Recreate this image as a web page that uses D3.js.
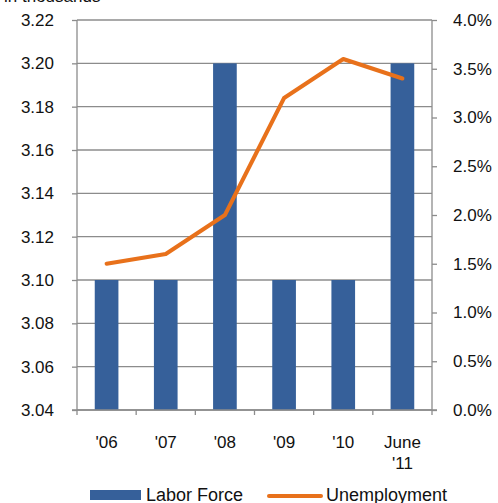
<!DOCTYPE html>
<html>
<head>
<meta charset="utf-8">
<script src="https://cdn.jsdelivr.net/npm/d3@7"></script>
<style>
  body { margin: 0; background: #fff; }
  text { font-family: "Liberation Sans", Arial, sans-serif; fill: #111; }
</style>
</head>
<body>
<div id="chart"></div>
<script>
// chart data
var categories = ["'06", "'07", "'08", "'09", "'10", "June\n'11"];
var laborForce = [3.10, 3.10, 3.20, 3.10, 3.10, 3.20];
var unemployment = [1.5, 1.6, 2.0, 3.2, 3.6, 3.4];
var leftTicks = [3.04, 3.06, 3.08, 3.10, 3.12, 3.14, 3.16, 3.18, 3.20, 3.22];
var rightTicks = [0, 0.5, 1.0, 1.5, 2.0, 2.5, 3.0, 3.5, 4.0];

var margin = { top: 20, right: 66, bottom: 93, left: 77 };
var width = 498 - margin.left - margin.right;
var height = 503 - margin.top - margin.bottom;

var svg = d3.select("#chart")
    .append("svg")
    .attr("width", 498)
    .attr("height", 503);

var g = svg.append("g")
    .attr("transform", "translate(" + margin.left + "," + margin.top + ")");

svg.append("text")
    .attr("x", 4)
    .attr("y", 2)
    .style("font-size", "17px")
    .text("in thousands");

var x = d3.scaleBand()
    .domain(categories)
    .range([0, width])
    .paddingInner(0.6)
    .paddingOuter(0.3);

var y = d3.scaleLinear().domain([3.04, 3.22]).range([height, 0]);
var y2 = d3.scaleLinear().domain([0, 4.0]).range([height, 0]);

// gridlines
g.selectAll(".grid")
    .data(leftTicks)
    .enter()
    .append("line")
      .attr("x1", 0)
      .attr("x2", width)
      .attr("y1", function(d) { return y(d) })
      .attr("y2", function(d) { return y(d) })
      .style("stroke", "#8c8c8c")
      .style("stroke-width", 1.3);

// bars
g.selectAll(".bar")
    .data(laborForce)
    .enter()
    .append("rect")
      .attr("x", function(d, i) { return x(categories[i]) })
      .attr("y", function(d) { return y(d) })
      .attr("width", x.bandwidth())
      .attr("height", function(d) { return height - y(d) })
      .style("fill", "#36609a");

// left axis
var leftAxis = g.append("g")
    .call(d3.axisLeft(y).tickValues(leftTicks).tickFormat(d3.format(".2f")).tickSize(5).tickPadding(18));
// right axis
var rightAxis = g.append("g")
    .attr("transform", "translate(" + width + ",0)")
    .call(d3.axisRight(y2).tickValues(rightTicks).tickFormat(function(d) { return d.toFixed(1) + "%" }).tickSize(5).tickPadding(16));

// bottom axis, ticks at category boundaries
var step = x.step();
var boundaries = d3.range(categories.length + 1).map(function(i) { return i * step; });
var bottom = g.append("g").attr("transform", "translate(0," + height + ")");
bottom.append("line")
    .attr("x1", -5).attr("x2", width + 5)
    .style("stroke", "#8c8c8c").style("stroke-width", 1.3);
bottom.selectAll(".btick")
    .data(boundaries)
    .enter()
    .append("line")
      .attr("x1", function(d) { return d }).attr("x2", function(d) { return d })
      .attr("y1", 0).attr("y2", 5)
      .style("stroke", "#8c8c8c").style("stroke-width", 1.3);

bottom.selectAll(".blabel")
    .data(categories)
    .enter()
    .append("text")
      .attr("x", function(d) { return x(d) + x.bandwidth() / 2 })
      .attr("y", 38)
      .attr("text-anchor", "middle")
      .style("font-size", "17px")
      .each(function(d) {
          var parts = d.split("\n");
          var t = d3.select(this);
          parts.forEach(function(p, i) {
              t.append("tspan")
                .attr("x", t.attr("x"))
                .attr("dy", i === 0 ? 0 : 21)
                .text(p);
          });
      });

[leftAxis, rightAxis].forEach(function(a) {
    a.select(".domain").style("stroke", "#8c8c8c").style("stroke-width", 1.3);
    a.selectAll(".tick line").style("stroke", "#8c8c8c").style("stroke-width", 1.3);
    a.selectAll(".tick text").style("font-size", "17px").style("font-family", "Liberation Sans, Arial, sans-serif").style("fill", "#111");
});
rightAxis.select(".domain").attr("d", "M0," + height + "V0");
leftAxis.select(".domain").attr("d", "M0," + height + "V0");

// unemployment line
var line = d3.line()
    .x(function(d, i) { return x(categories[i]) + x.bandwidth() / 2 })
    .y(function(d) { return y2(d) });

g.append("path")
    .datum(unemployment)
    .attr("d", line)
    .style("fill", "none")
    .style("stroke", "#e8711b")
    .style("stroke-width", 4)
    .style("stroke-linecap", "round")
    .style("stroke-linejoin", "round");

// legend
var legend = svg.append("g");
legend.append("rect")
    .attr("x", 90).attr("y", 490).attr("width", 51).attr("height", 10)
    .style("fill", "#36609a");
legend.append("text")
    .attr("x", 146).attr("y", 501)
    .style("font-size", "18px")
    .text("Labor Force");
legend.append("line")
    .attr("x1", 269).attr("x2", 321).attr("y1", 496).attr("y2", 496)
    .style("stroke", "#e8711b").style("stroke-width", 4).style("stroke-linecap", "round");
legend.append("text")
    .attr("x", 326).attr("y", 501)
    .style("font-size", "18px")
    .text("Unemployment");
</script>
</body>
</html>
